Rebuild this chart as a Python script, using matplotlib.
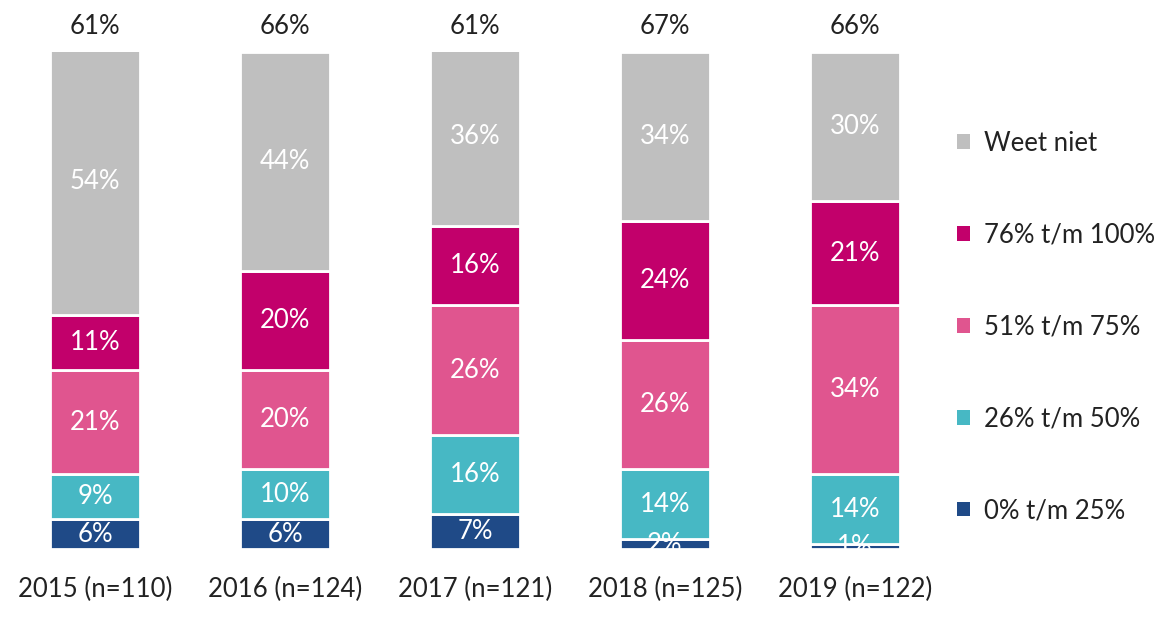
import matplotlib
matplotlib.use("Agg")
import matplotlib.pyplot as plt
from matplotlib.patches import Patch

# -----------------------------
# Data
# -----------------------------
years = ["2015 (n=110)", "2016 (n=124)", "2017 (n=121)", "2018 (n=125)", "2019 (n=122)"]
top_labels = ["61%", "66%", "61%", "67%", "66%"]

series_names = ["0% t/m 25%", "26% t/m 50%", "51% t/m 75%", "76% t/m 100%", "Weet niet"]
v_0_25 = [6, 6, 7, 2, 1]
v_26_50 = [9, 10, 16, 14, 14]
v_51_75 = [21, 20, 26, 26, 34]
v_76_100 = [11, 20, 16, 24, 21]
v_weet_niet = [54, 44, 36, 34, 30]

series = [v_0_25, v_26_50, v_51_75, v_76_100, v_weet_niet]
colors = ["#1F4A87", "#47B8C4", "#E0558F", "#C2006B", "#BFBFBF"]

plt.rcParams["font.family"] = ["Lato", "DejaVu Sans"]
FS = 18.5
TXT = "#222222"

fig = plt.figure(figsize=(11.74, 6.18), dpi=100)
ax = fig.add_axes([0, 69 / 618, 950 / 1174, 497 / 618])

x = list(range(len(years)))
bottoms = [0] * len(years)
for vals, color in zip(series, colors):
    ax.bar(x, vals, width=0.47, bottom=bottoms, color=color,
           edgecolor="white", linewidth=2)
    for xi, b, v in zip(x, bottoms, vals):
        ax.text(xi, b + v / 2, f"{v}%", ha="center", va="center",
                color="white", fontsize=FS)
    bottoms = [b + v for b, v in zip(bottoms, vals)]

for xi, lab in zip(x, top_labels):
    ax.annotate(lab, (xi, 100), xytext=(0, 18), textcoords="offset points",
                ha="center", va="center", fontsize=FS, color=TXT,
                annotation_clip=False)

ax.set_xlim(-0.5, 4.5)
ax.set_ylim(0, 100)
ax.set_xticks(x)
ax.set_xticklabels(years, fontsize=FS, color=TXT)
ax.tick_params(axis="x", length=0, pad=20)
ax.set_yticks([])
for s in ax.spines.values():
    s.set_visible(False)

handles = [Patch(facecolor=c, edgecolor="none") for c in colors][::-1]
labels = series_names[::-1]
fig.legend(handles, labels, loc="center left",
           bbox_to_anchor=(934 / 1174, (618 - 327) / 618),
           frameon=False, fontsize=FS, labelcolor=TXT, handlelength=0.5,
           handleheight=0.5, handletextpad=0.55, labelspacing=2.6)

fig.savefig("out.png", dpi=100)
